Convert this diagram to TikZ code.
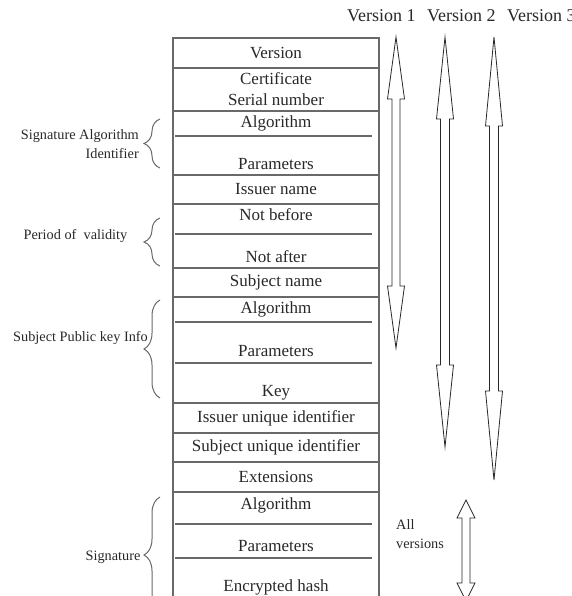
\documentclass[tikz,border=0pt]{standalone}
\definecolor{tablegray}{RGB}{105,105,105}
\definecolor{inkgray}{RGB}{40,40,40}
\usepackage{fontspec}
\setmainfont{Liberation Serif}
\usepackage{tikz}
\usetikzlibrary{decorations.pathreplacing}

\begin{document}
\begin{tikzpicture}[x=1pt, y=-1pt,
    rowbox/.style={draw=tablegray, line width=1.1pt, minimum width=206pt,
                   inner sep=0pt, text=inkgray, font=\fontsize{17}{21}\selectfont, align=center},
    fieldtxt/.style={inner sep=0pt, text=inkgray, font=\fontsize{17}{21}\selectfont},
    sepline/.style={draw=tablegray, line width=1.1pt},
    sidelabel/.style={inner sep=0pt, text=inkgray, font=\fontsize{14.3}{19}\selectfont},
    sidebrace/.style={draw=tablegray, line width=1pt,
                      decorate, decoration={brace, amplitude=16pt}},
    hollowarr/.style={draw=inkgray, line width=0.8pt, fill=white}]
  \clip (0,0) rectangle (571,596);

  % header
  \node[fieldtxt, anchor=west, font=\fontsize{18}{21}\selectfont] (v1lbl) at (347,16) {Version 1};
  \node[fieldtxt, anchor=west, font=\fontsize{18}{21}\selectfont] (v2lbl) at (427,16) {Version 2};
  \node[fieldtxt, anchor=west, font=\fontsize{18}{21}\selectfont] (v3lbl) at (507,16) {Version 3};

  % certificate fields
  \node[rowbox, minimum height=30pt] (ver) at (276,53) {Version};
  \node[rowbox, minimum height=43pt] (serial) at (276,89.5) {Certificate\\Serial number};
  \node[rowbox, minimum height=64pt] (sigalg) at (276,143) {};
  \node[rowbox, minimum height=29pt] (issuer) at (276,189.5) {Issuer name};
  \node[rowbox, minimum height=64pt] (valid) at (276,236) {};
  \node[rowbox, minimum height=29pt] (subject) at (276,282.5) {Subject name};
  \node[rowbox, minimum height=106pt] (spki) at (276,350) {};
  \node[rowbox, minimum height=30pt] (issuid) at (276,418) {Issuer unique identifier};
  \node[rowbox, minimum height=29pt] (subuid) at (276,447.5) {Subject unique identifier};
  \node[rowbox, minimum height=30pt] (ext) at (276,477) {Extensions};
  \node[rowbox, minimum height=128pt] (sig) at (276,556) {};

  \node[fieldtxt] (sigalgA) at (276,123) {Algorithm};
  \node[fieldtxt] (sigalgP) at (276,164) {Parameters};
  \node[fieldtxt] (validB) at (276,215) {Not before};
  \node[fieldtxt] (validA) at (276,257) {Not after};
  \node[fieldtxt] (spkiA) at (276,309) {Algorithm};
  \node[fieldtxt] (spkiP) at (276,351) {Parameters};
  \node[fieldtxt] (spkiK) at (276,393) {Key};
  \node[fieldtxt] (sigA) at (276,505) {Algorithm};
  \node[fieldtxt] (sigP) at (276,546) {Parameters};
  \node[fieldtxt] (sigH) at (276,587) {Encrypted hash};

  \foreach \y in {136,234,322,363,524,558}
    \draw[sepline] (175,\y) -- (372,\y);

  % groups on the left
  \node[sidelabel, anchor=east, align=right] (sigalglbl) at (139,144) {Signature Algorithm\\Identifier};
  \node[sidelabel] (validlbl) at (75.5,236) {Period of\ \ validity};
  \node[sidelabel] (spkilbl) at (80.5,338) {Subject Public key Info};
  \node[sidelabel] (siglbl) at (113,557) {Signature};
  \draw[sidebrace] (160,168) -- (160,119);
  \draw[sidebrace] (160,266) -- (160,218);
  \draw[sidebrace] (160,398) -- (160,300);
  \draw[sidebrace] (160,613) -- (160,497);

  % which versions carry which fields
  \foreach \ax/\at/\ab/\ah/\hw/\sw in {396/37/348/62/8.5/4, 445/37/447/82/8.5/4.5,
                                       494/37/480/89/8.5/4.5, 466/500/601/18/9/4}
    \draw[hollowarr] (\ax,\at) -- (\ax+\hw,\at+\ah) -- (\ax+\sw,\at+\ah) -- (\ax+\sw,\ab-\ah)
      -- (\ax+\hw,\ab-\ah) -- (\ax,\ab) -- (\ax-\hw,\ab-\ah) -- (\ax-\sw,\ab-\ah)
      -- (\ax-\sw,\at+\ah) -- (\ax-\hw,\at+\ah) -- cycle;
  \node[sidelabel, anchor=west, align=left] (alllbl) at (396,534) {All\\versions};
\end{tikzpicture}
\end{document}
